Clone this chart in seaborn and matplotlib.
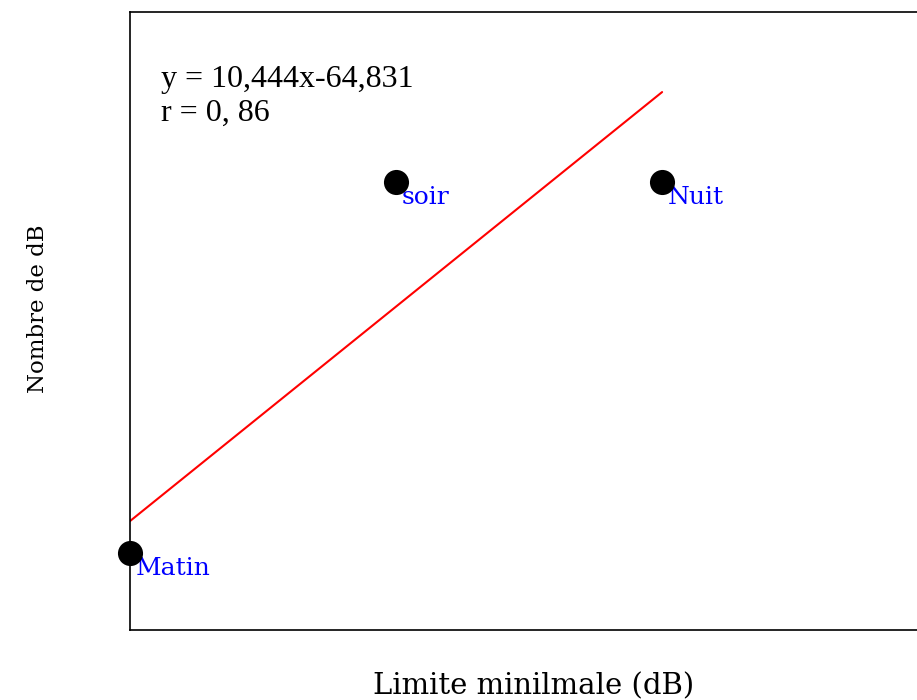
import matplotlib
matplotlib.use("Agg")
import matplotlib.pyplot as plt
import seaborn as sns
import pandas as pd

# points (x = limite minimale, y = nombre de dB)
periodes = ["Matin", "soir", "Nuit"]
limite = [6, 7, 8]
nombre = [-3.72, 14.34, 14.34]

# regression line y = 10,444x - 64,831
pente = 10.444
origine = -64.831
x_ligne = [6, 8]
y_ligne = [pente * x + origine for x in x_ligne]

df = pd.DataFrame({"periode": periodes, "limite": limite, "nombre": nombre})
df_ligne = pd.DataFrame({"x": x_ligne, "y": y_ligne})

sns.set_style("white")
fig = plt.figure(figsize=(9.17, 7.0), dpi=100)
ax = fig.add_axes([130 / 917, 70 / 700, 0.95, 618 / 700])

sns.lineplot(data=df_ligne, x="x", y="y", color="red", linewidth=1.5, ax=ax)
sns.scatterplot(data=df, x="limite", y="nombre", color="black", s=280,
                edgecolor="black", ax=ax, clip_on=False, zorder=5)

for _, row in df.iterrows():
    ax.annotate(row["periode"], (row["limite"], row["nombre"]),
                xytext=(4, -11), textcoords="offset points",
                color="blue", fontsize=18, family="DejaVu Serif",
                ha="left", va="center")

ax.set_xlim(6, 6 + 871 / 266)
ax.set_ylim(-7.47, 22.62)
ax.set_xticks([])
ax.set_yticks([])
ax.set_xlabel("")
ax.set_ylabel("")
for s in ax.spines.values():
    s.set_color("black")
    s.set_linewidth(1.2)

ax.text(0.036, 0.915, "y = 10,444x-64,831\nr = 0, 86", transform=ax.transAxes,
        family="Liberation Serif", fontsize=23, va="top", ha="left",
        linespacing=1.26, color="black")

fig.text(534 / 917, 1 - 686 / 700, "Limite minilmale (dB)", family="DejaVu Serif",
         fontsize=21, ha="center", va="center", color="black")
fig.text(38 / 917, 1 - 309 / 700, "Nombre de dB", family="DejaVu Serif",
         fontsize=16.5, rotation=90, ha="center", va="center", color="black")

fig.savefig("out.png", dpi=100)
